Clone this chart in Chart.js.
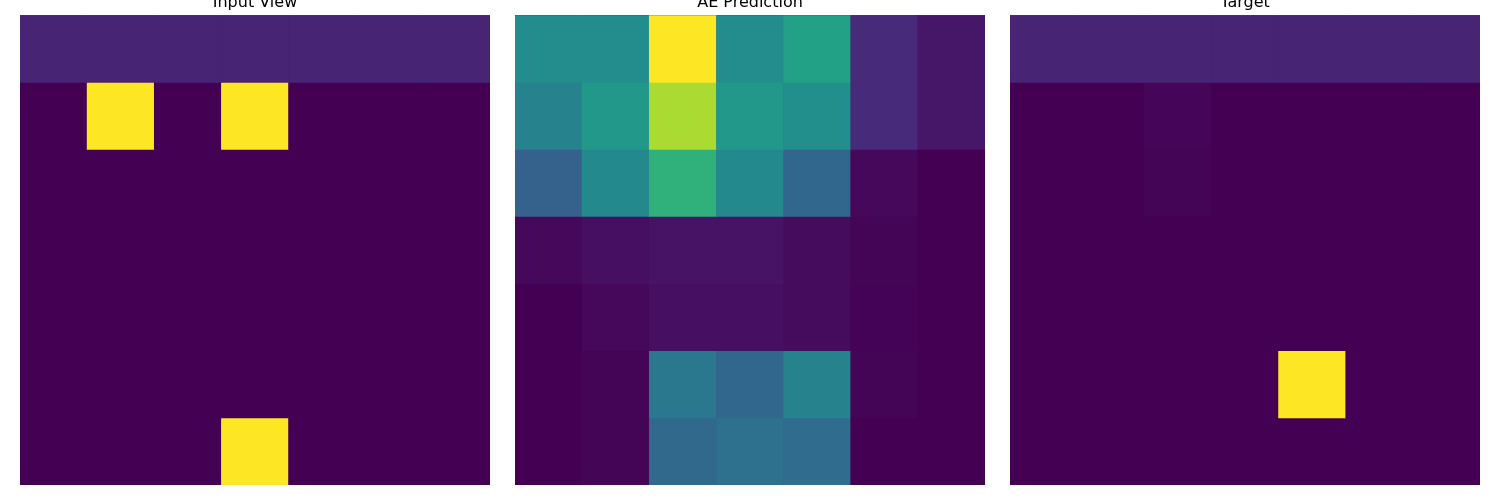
<!DOCTYPE html>
<html>
<head>
<meta charset="utf-8">
<script src="https://cdn.jsdelivr.net/npm/chart.js@4/dist/chart.umd.min.js"></script>
<style>
  body { margin: 0; background: #fff; width: 1500px; height: 500px; overflow: hidden; position: relative; }
  .panel { position: absolute; top: -7px; width: 470px; height: 492px; }
</style>
</head>
<body>
<div class="panel" style="left:20px"><canvas id="c0"></canvas></div>
<div class="panel" style="left:515px"><canvas id="c1"></canvas></div>
<div class="panel" style="left:1010px"><canvas id="c2"></canvas></div>
<script>
const cols = ["0", "1", "2", "3", "4", "5", "6"];
const titles = ["Input View", "AE Prediction", "Target"];

// grid values, one row per array (row 0 = top)
const inputView = [
  [0.1, 0.1, 0.1, 0.1, 0.1, 0.1, 0.1],
  [0, 1, 0, 1, 0, 0, 0],
  [0, 0, 0, 0, 0, 0, 0],
  [0, 0, 0, 0, 0, 0, 0],
  [0, 0, 0, 0, 0, 0, 0],
  [0, 0, 0, 0, 0, 0, 0],
  [0, 0, 0, 1, 0, 0, 0]
];
const aePrediction = [
  [0.48, 0.48, 1.0, 0.48, 0.57, 0.12, 0.06],
  [0.44, 0.53, 0.87, 0.53, 0.49, 0.12, 0.06],
  [0.31, 0.47, 0.64, 0.47, 0.33, 0.02, 0.0],
  [0.02, 0.04, 0.05, 0.05, 0.03, 0.01, 0.0],
  [0.0, 0.02, 0.04, 0.04, 0.03, 0.005, 0.0],
  [0.0, 0.01, 0.40, 0.33, 0.44, 0.01, 0.0],
  [0.0, 0.01, 0.34, 0.37, 0.35, 0.0, 0.0]
];
const target = [
  [0.1, 0.1, 0.1, 0.1, 0.1, 0.1, 0.1],
  [0, 0, 0.015, 0, 0, 0, 0],
  [0, 0, 0.01, 0, 0, 0, 0],
  [0, 0, 0, 0, 0, 0, 0],
  [0, 0, 0, 0, 0, 0, 0],
  [0, 0, 0, 0, 1, 0, 0],
  [0, 0, 0, 0, 0, 0, 0]
];

const viridis = ["#440154", "#482475", "#414487", "#355f8d", "#2a788e", "#21918c",
                 "#22a884", "#44bf70", "#7ad151", "#bddf26", "#fde725"];

function hex(h) {
  return [parseInt(h.slice(1, 3), 16), parseInt(h.slice(3, 5), 16), parseInt(h.slice(5, 7), 16)];
}

function cmap(v) {
  v = Math.max(0, Math.min(1, v)) * 10;
  const i = Math.min(9, Math.floor(v));
  const t = v - i;
  const a = hex(viridis[i]), b = hex(viridis[i + 1]);
  const c = a.map((x, k) => Math.round(x + (b[k] - x) * t));
  return "rgb(" + c.join(",") + ")";
}

// fill chart area so antialiased seams between cells don't show white
const bgFill = {
  id: "bgFill",
  beforeDatasetsDraw(chart) {
    const a = chart.chartArea;
    chart.ctx.save();
    chart.ctx.fillStyle = "#440154";
    chart.ctx.fillRect(a.left, a.top, a.right - a.left, a.bottom - a.top);
    chart.ctx.restore();
  }
};

function drawGrid(id, title, grid) {
  const datasets = grid.map((row, r) => ({
    data: row.map(() => [r, r + 1]),
    backgroundColor: row.map(v => cmap(v)),
    borderWidth: 0,
    barPercentage: 1,
    categoryPercentage: 1
  }));
  new Chart(document.getElementById(id), {
    type: "bar",
    data: { labels: cols, datasets: datasets },
    options: {
      responsive: true,
      maintainAspectRatio: false,
      animation: false,
      layout: { padding: 0 },
      plugins: {
        legend: { display: false },
        tooltip: { enabled: false },
        title: {
          display: true,
          text: title,
          color: "#000",
          font: { family: "DejaVu Sans", size: 16, weight: "normal" },
          padding: { top: 0, bottom: 3 }
        }
      },
      scales: {
        x: { display: false, stacked: false, offset: true },
        y: { display: false, min: 0, max: 7, reverse: true }
      },
      grouped: false
    },
    plugins: [bgFill]
  });
}

drawGrid("c0", titles[0], inputView);
drawGrid("c1", titles[1], aePrediction);
drawGrid("c2", titles[2], target);
</script>
</body>
</html>
